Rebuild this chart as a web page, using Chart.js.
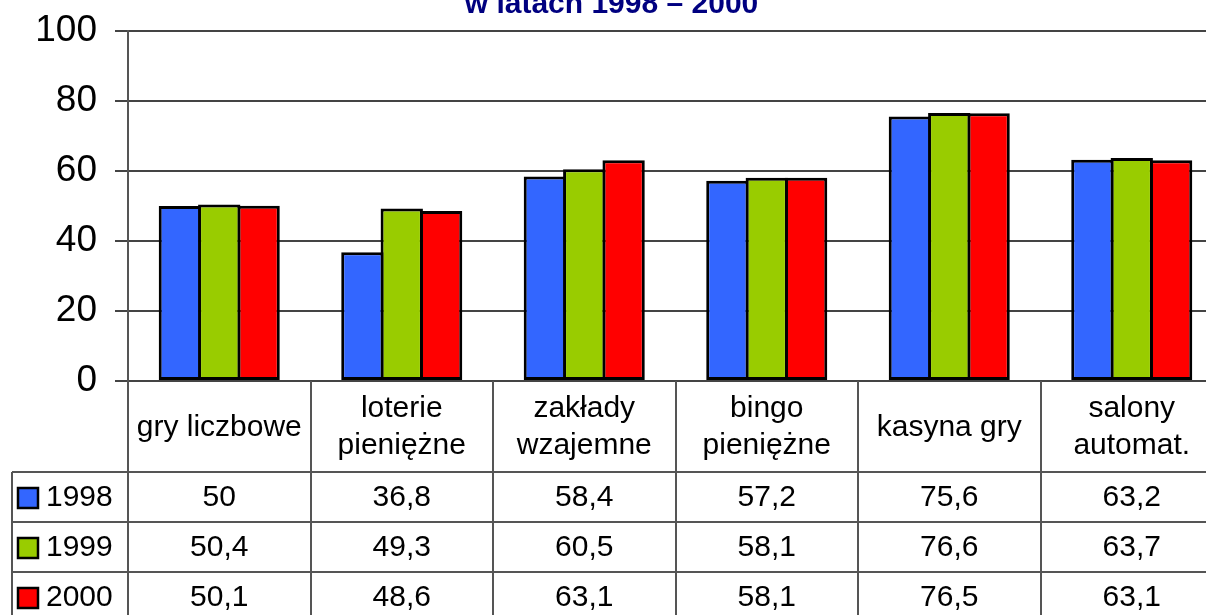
<!DOCTYPE html>
<html>
<head>
<meta charset="utf-8">
<script src="https://cdn.jsdelivr.net/npm/chart.js@4/dist/chart.umd.min.js"></script>
<style>
  html, body { margin: 0; padding: 0; background: #fff; overflow: hidden; }
  #wrap { width: 1206px; height: 615px; overflow: hidden; }
</style>
</head>
<body>
<div id="wrap">
  <canvas id="myChart" width="1223" height="615"></canvas>
</div>
<script>
// data
const categories = [
  ["gry liczbowe"],
  ["loterie", "pieniężne"],
  ["zakłady", "wzajemne"],
  ["bingo", "pieniężne"],
  ["kasyna gry"],
  ["salony", "automat."]
];
const seriesNames = ["1998", "1999", "2000"];
const values1998 = [50, 36.8, 58.4, 57.2, 75.6, 63.2];
const values1999 = [50.4, 49.3, 60.5, 58.1, 76.6, 63.7];
const values2000 = [50.1, 48.6, 63.1, 58.1, 76.5, 63.1];
const seriesColors = ["#3366ff", "#99cc00", "#ff0000"];
const yMin = 0, yMax = 100, yStep = 20;
const titleText = "w latach 1998 – 2000";

const FONT = "'Liberation Sans', Arial, sans-serif";
const LINE = "#555";

// title (cut at the top) + data table under the axis
const tablePlugin = {
  id: "dataTable",
  afterDraw(chart) {
    const ctx = chart.ctx;
    const x = chart.scales.x;
    const area = chart.chartArea;
    const allValues = [values1998, values1999, values2000];
    const colW = x.width / categories.length;
    const top = area.bottom;
    const headH = 91, rowH = 50;
    const leftX = 12;
    const bottom = chart.height + 2;

    ctx.save();
    // title
    ctx.fillStyle = "#000080";
    ctx.font = "bold 30px " + FONT;
    ctx.textAlign = "center";
    ctx.textBaseline = "alphabetic";
    ctx.fillText(titleText, chart.width / 2, 13);

    ctx.strokeStyle = LINE;
    ctx.lineWidth = 2;
    // vertical lines
    ctx.beginPath();
    for (let i = 0; i <= categories.length; i++) {
      const lx = Math.round(x.left + i * colW);
      ctx.moveTo(lx, top);
      ctx.lineTo(lx, bottom);
    }
    ctx.moveTo(leftX, top + headH);
    ctx.lineTo(leftX, bottom);
    // horizontal lines
    for (let r = 0; r < seriesNames.length; r++) {
      const ly = top + headH + r * rowH;
      ctx.moveTo(leftX, ly);
      ctx.lineTo(x.right, ly);
    }
    ctx.stroke();

    ctx.fillStyle = "#000";
    ctx.font = "30px " + FONT;
    ctx.textBaseline = "middle";
    ctx.textAlign = "center";
    categories.forEach((lines, i) => {
      const cx = x.getPixelForValue(i);
      const cy = top + headH / 2 + 1;
      const lh = 37;
      lines.forEach((t, k) => {
        ctx.fillText(t, cx, cy + (k - (lines.length - 1) / 2) * lh);
      });
    });

    seriesNames.forEach((name, r) => {
      const cy = top + headH + r * rowH + rowH / 2 + 1;
      // legend key
      ctx.fillStyle = seriesColors[r];
      ctx.fillRect(18, cy - 10, 20, 20);
      ctx.strokeStyle = "#000";
      ctx.lineWidth = 2.5;
      ctx.strokeRect(18, cy - 10, 20, 20);
      ctx.fillStyle = "#000";
      ctx.textAlign = "left";
      ctx.fillText(name, 46, cy);
      ctx.textAlign = "center";
      allValues[r].forEach((v, i) => {
        ctx.fillText(String(v).replace(".", ","), x.getPixelForValue(i), cy);
      });
    });
    ctx.restore();
  }
};

const data = {
  labels: categories.map(c => c.join(" ")),
  datasets: [values1998, values1999, values2000].map((vals, i) => ({
    label: seriesNames[i],
    data: vals,
    backgroundColor: seriesColors[i],
    borderColor: "#000",
    borderWidth: 3,
    borderSkipped: false,
    barPercentage: 1.076,
    categoryPercentage: 0.647
  }))
};

const config = {
  type: "bar",
  data: data,
  options: {
    responsive: false,
    animation: false,
    layout: { padding: { top: 31, bottom: 226, left: 0, right: 0 } },
    plugins: {
      legend: { display: false },
      tooltip: { enabled: false },
      title: { display: false }
    },
    scales: {
      x: {
        ticks: { display: false },
        grid: { display: false },
        border: { display: false }
      },
      y: {
        min: yMin,
        max: yMax,
        afterFit(scale) {
          scale.width = 128;
          scale.paddingTop = 0;
          scale.paddingBottom = 0;
        },
        ticks: {
          stepSize: yStep,
          padding: 18,
          color: "#000",
          font: { family: FONT, size: 37 }
        },
        grid: { color: "#444", lineWidth: 2, tickLength: 13 },
        border: { color: LINE, width: 2 }
      }
    }
  },
  plugins: [tablePlugin]
};

new Chart(document.getElementById("myChart"), config);
</script>
</body>
</html>
